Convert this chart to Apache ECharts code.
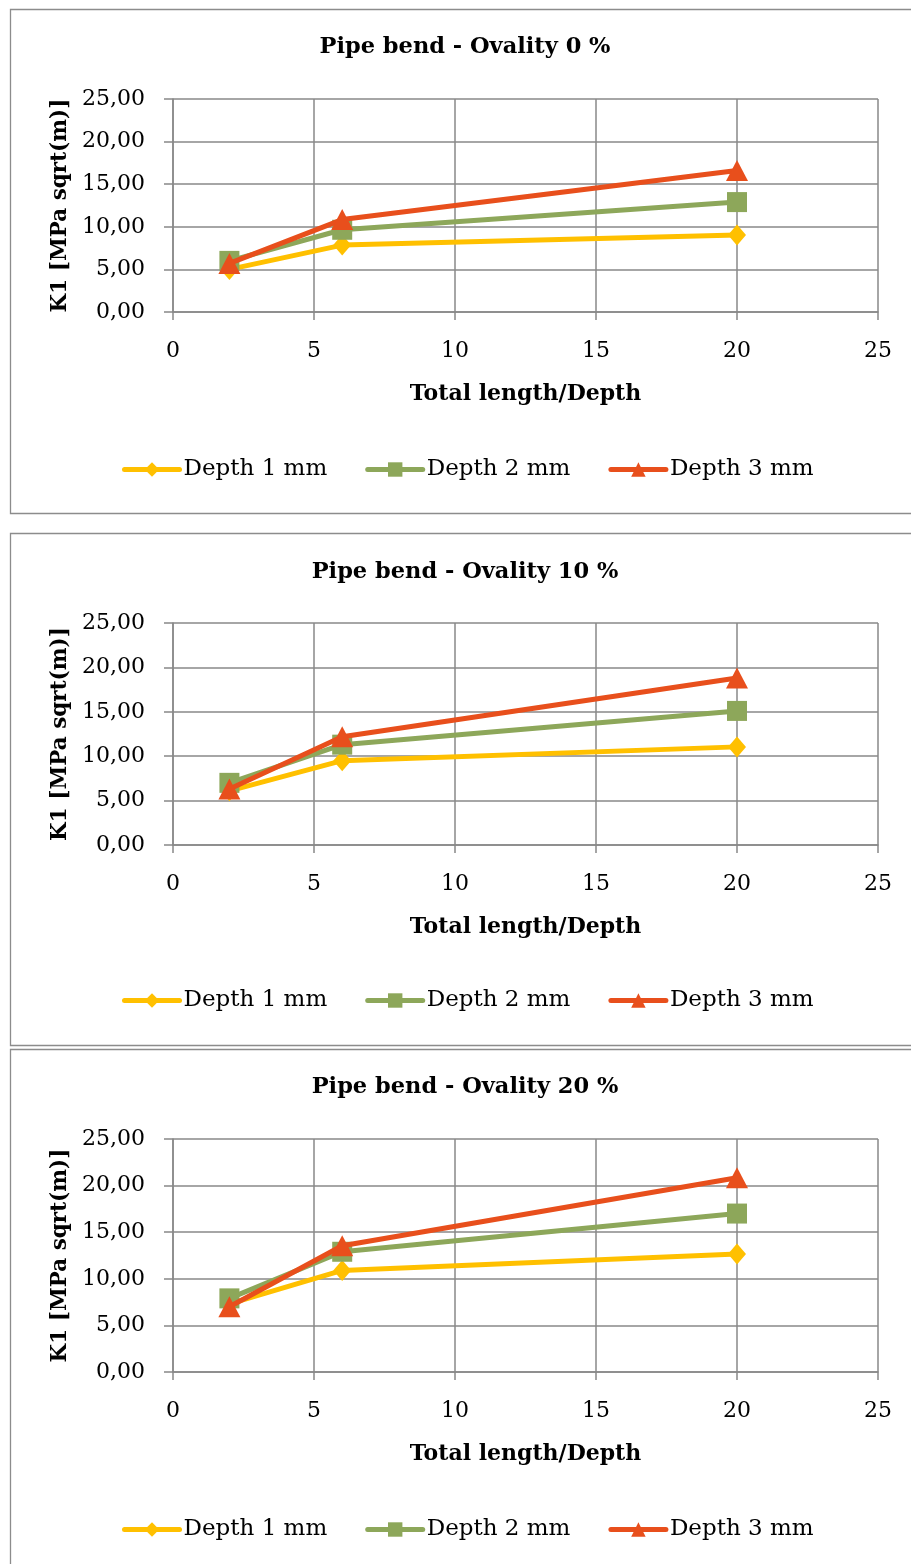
<!DOCTYPE html>
<html>
<head>
<meta charset="utf-8">
<script src="https://cdn.jsdelivr.net/npm/echarts@6/dist/echarts.min.js"></script>
<style>
html,body{margin:0;padding:0;background:#fff;}
#chart{width:911px;height:1564px;}
</style>
</head>
<body>
<div id="chart"></div>
<script>
// ---- data ----
const xValues = [2, 6, 20];
const chartTitles = ['Pipe bend - Ovality 0 %', 'Pipe bend - Ovality 10 %', 'Pipe bend - Ovality 20 %'];
const seriesNames = ['Depth 1 mm', 'Depth 2 mm', 'Depth 3 mm'];
const xAxisName = 'Total length/Depth';
const yAxisName = 'K1 [MPa sqrt(m)]';
const xTicks = [0, 5, 10, 15, 20, 25];
const yTicks = [0, 5, 10, 15, 20, 25];

const ov0_depth1 = [5.0, 7.85, 9.05];
const ov0_depth2 = [6.0, 9.65, 12.9];
const ov0_depth3 = [5.7, 10.85, 16.6];

const ov10_depth1 = [6.1, 9.5, 11.05];
const ov10_depth2 = [7.0, 11.3, 15.1];
const ov10_depth3 = [6.3, 12.2, 18.8];

const ov20_depth1 = [7.3, 10.9, 12.65];
const ov20_depth2 = [7.9, 12.9, 17.0];
const ov20_depth3 = [7.0, 13.55, 20.85];

const panelData = [
  [ov0_depth1, ov0_depth2, ov0_depth3],
  [ov10_depth1, ov10_depth2, ov10_depth3],
  [ov20_depth1, ov20_depth2, ov20_depth3]
];

// ---- layout / style ----
const FONT = 'DejaVu Serif';
const colors = ['#FFC000', '#8DA75A', '#E84F1C'];
const symbols = ['diamond', 'rect', 'triangle'];
const symbolSizes = [[18, 21], 20, [22, 21]];
const gridColor = '#888888';

const layout = [
  {boxTop: 7, boxH: 504, gridTop: 99, gridH: 213, titleY: 47, legendY: 470, titleX: 465},
  {boxTop: 531, boxH: 512, gridTop: 623, gridH: 222, titleY: 572, legendY: 1001, titleX: 465},
  {boxTop: 1047, boxH: 540, gridTop: 1139, gridH: 233, titleY: 1087, legendY: 1530, titleX: 465}
];

const fmtY = v => v.toFixed(2).replace('.', ',');

const option = {
  backgroundColor: '#ffffff',
  animation: false,
  textStyle: {fontFamily: FONT},
  title: [], legend: [], grid: [], xAxis: [], yAxis: [], series: [],
  graphic: []
};

layout.forEach((L, i) => {
  option.graphic.push({
    type: 'rect', left: 8, top: L.boxTop,
    shape: {x: 0, y: 0, width: 902, height: L.boxH},
    style: {fill: 'none', stroke: '#8c8c8c', lineWidth: 1.3},
    z: -1
  });
  option.title.push({
    text: chartTitles[i],
    left: L.titleX, textAlign: 'center',
    top: L.titleY - 12, padding: 0,
    textStyle: {fontFamily: FONT, fontWeight: 'bold', fontSize: 22.5, color: '#000', lineHeight: 24}
  });
  option.legend.push({
    data: seriesNames,
    left: 122, top: L.legendY - 12, padding: 0,
    itemWidth: 55, itemHeight: 18, itemGap: 38,
    lineStyle: {width: 5, cap: 'round'},
    textStyle: {fontFamily: FONT, fontSize: 23, color: '#000', padding: [0, 0, 0, -1]}
  });
  option.grid.push({left: 173, width: 705, top: L.gridTop, height: L.gridH});
  option.xAxis.push({
    type: 'value', gridIndex: i, min: 0, max: 25, interval: 5,
    name: xAxisName, nameLocation: 'middle', nameGap: 71,
    nameTextStyle: {fontFamily: FONT, fontWeight: 'bold', fontSize: 22, color: '#000'},
    axisLine: {show: true, onZero: false, lineStyle: {color: gridColor, width: 1.5}},
    axisTick: {show: true, length: 8, lineStyle: {color: gridColor, width: 1.5}},
    axisLabel: {fontFamily: FONT, fontSize: 22, color: '#000', margin: 28,
      customValues: xTicks},
    splitLine: {show: true, lineStyle: {color: gridColor, width: 1.5}}
  });
  option.yAxis.push({
    type: 'value', gridIndex: i, min: 0, max: 25, interval: 5,
    name: yAxisName, nameLocation: 'middle', nameGap: 100, nameRotate: 90,
    nameTextStyle: {fontFamily: FONT, fontWeight: 'bold', fontSize: 21.5, color: '#000'},
    axisLine: {show: true, lineStyle: {color: gridColor, width: 1.5}},
    axisTick: {show: true, length: 9, lineStyle: {color: gridColor, width: 1.5}},
    axisLabel: {fontFamily: FONT, fontSize: 22, color: '#000', margin: 28, formatter: fmtY},
    splitLine: {show: true, lineStyle: {color: gridColor, width: 1.5}}
  });
  panelData[i].forEach((vals, s) => {
    option.series.push({
      type: 'line', name: seriesNames[s],
      xAxisIndex: i, yAxisIndex: i,
      data: xValues.map((x, k) => [x, vals[k]]),
      symbol: symbols[s], symbolSize: symbolSizes[s], showAllSymbol: true,
      lineStyle: {color: colors[s], width: 5, cap: 'round', join: 'round'},
      itemStyle: {color: colors[s], borderWidth: 0},
      z: 2 + s
    });
  });
});

const chart = echarts.init(document.getElementById('chart'), null, {renderer: 'canvas'});
chart.setOption(option);
</script>
</body>
</html>
